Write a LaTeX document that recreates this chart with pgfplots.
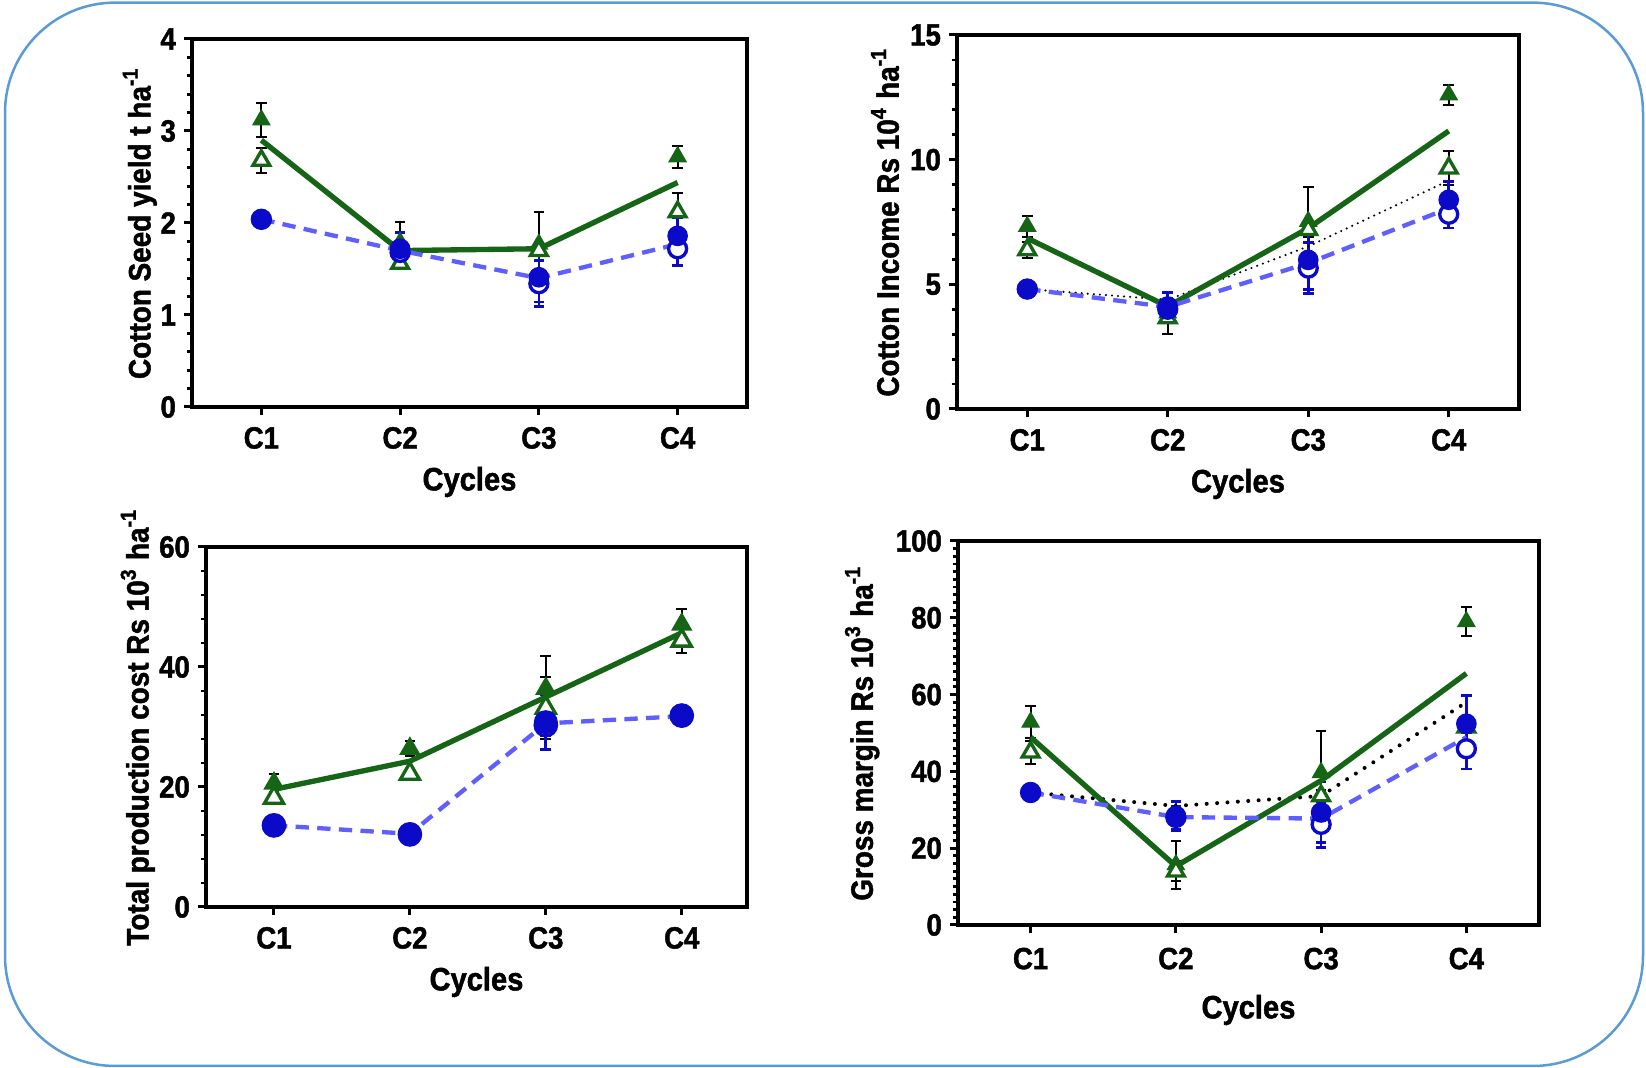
\documentclass[border=0pt]{standalone}
\usepackage{fontspec}
\setmainfont{Liberation Sans}[FakeStretch=0.9, BoldFeatures={FakeBold=1.5}]
\usepackage{pgfplots}
\pgfplotsset{compat=1.18}
\definecolor{ggreen}{RGB}{22,100,22}
\definecolor{dblue}{RGB}{10,10,200}
\definecolor{lblue}{RGB}{95,95,255}
\definecolor{bcol}{RGB}{91,155,213}
\pgfplotsset{
  panel/.style={scale only axis, xmin=0.5, xmax=4.5, xtick={1,2,3,4},
    xticklabels={C1,C2,C3,C4}, xtick pos=bottom, ytick pos=left, tick align=outside,
    axis line style={line width=1.35pt}, tick style={black,line width=0.9pt},
    minor tick style={black,line width=0.85pt},
    major tick length=2.5pt, minor tick length=1.6pt,
    /pgf/number format/assume math mode=true,
    yticklabel={\fontsize{9.2}{10}\selectfont\bfseries\pgfmathprintnumber[assume math mode=true]{\tick}},
    yticklabel style={xshift=1.2pt},
    xticklabel style={font=\fontsize{9.2}{10}\selectfont\bfseries},
    xlabel style={font=\fontsize{9.7}{10}\selectfont\bfseries},
    ylabel style={font=\fontsize{9.3}{10}\selectfont\bfseries},
    xlabel={Cycles},
    xlabel style={at={(axis description cs:0.5,0)}, anchor=center, yshift=-22.5pt},
    clip=false},
  tf/.style={only marks, mark=triangle*, mark size=#1, color=ggreen,
    error bars/.cd, y dir=both, y explicit,
    error bar style={black, line width=0.6pt},
    error mark options={black, rotate=90, mark size=1.6pt, line width=0.6pt}},
  to/.style={only marks, mark=triangle*, mark size=#1, color=ggreen,
    mark options={fill=white, draw=ggreen, line width=1pt},
    error bars/.cd, y dir=both, y explicit,
    error bar style={black, line width=0.6pt},
    error mark options={black, rotate=90, mark size=1.6pt, line width=0.6pt}},
  cf/.style={only marks, mark=*, mark size=#1, color=dblue,
    error bars/.cd, y dir=both, y explicit,
    error bar style={dblue, line width=0.8pt},
    error mark options={dblue, rotate=90, mark size=1.6pt, line width=0.8pt}},
  co/.style={only marks, mark=*, mark size=#1, color=dblue,
    mark options={fill=white, draw=dblue, line width=1pt},
    error bars/.cd, y dir=both, y explicit,
    error bar style={dblue, line width=0.8pt},
    error mark options={dblue, rotate=90, mark size=1.6pt, line width=0.8pt}},
  gline/.style={ggreen, line width=1.6pt, no marks},
  bline/.style={lblue, line width=1.3pt, dash pattern=on 4pt off 2.5pt, no marks},
  kline/.style={black, line width=#1, line cap=round, dash pattern=on 0pt off 2.6*#1, no marks},
}
\begin{document}
\begin{tikzpicture}
\path[use as bounding box] (0,0) rectangle (493.8pt,320.4pt);
\draw[bcol, line width=0.75pt, rounded corners=33pt] (1.5pt,0.6pt) rectangle (492.9pt,319.6pt);

% Panel 1
\begin{axis}[panel, at={(57.6pt,198.3pt)}, anchor=south west, width=166.5pt, height=110.4pt,
  ymin=0, ymax=4, ytick={0,1,2,3,4}, minor y tick num=4,
  ylabel={Cotton Seed yield t ha\textsuperscript{-1}},
  ylabel style={at={(axis description cs:-0.094,0.5)}, anchor=center}]
\addplot[tf=2.9pt] table[x=x,y=y,y error=e] {
x y e
1 3.12 0.18
2 1.79 0.22
3 1.77 0.35
4 2.72 0.12
};
\addplot[to=2.9pt] table[x=x,y=y,y error=e] {
x y e
1 2.68 0.14
2 1.56 0.05
3 1.70 0.05
4 2.12 0.21
};
\addplot[co=2.7pt] table[x=x,y=y,y error=e] {
x y e
1 2.04 0.02
2 1.68 0.12
3 1.34 0.25
4 1.72 0.18
};
\addplot[cf=2.9pt] table[x=x,y=y,y error=e] {
x y e
1 2.04 0.02
2 1.72 0.18
3 1.41 0.27
4 1.86 0.20
};
\addplot[gline] coordinates {(1,2.90) (2,1.70) (3,1.72) (4,2.44)};
\addplot[bline] coordinates {(1,2.04) (2,1.70) (3,1.40) (4,1.77)};
\end{axis}

% Panel 2
\begin{axis}[panel, at={(287.1pt,197.7pt)}, anchor=south west, width=168.6pt, height=112.2pt,
  ymin=0, ymax=15, ytick={0,5,10,15}, minor y tick num=4,
  ylabel={Cotton Income Rs 10\textsuperscript{4} ha\textsuperscript{-1}},
  ylabel style={at={(axis description cs:-0.128,0.5)}, anchor=center}]
\addplot[tf=2.9pt] table[x=x,y=y,y error=e] {
x y e
1 7.32 0.43
2 3.85 0.85
3 7.52 1.40
4 12.6 0.40
};
\addplot[to=2.9pt] table[x=x,y=y,y error=e] {
x y e
1 6.38 0.33
2 3.65 0.10
3 7.19 0.30
4 9.66 0.69
};
\addplot[co=2.7pt] table[x=x,y=y,y error=e] {
x y e
1 4.81 0.10
2 4.00 0.30
3 5.65 1.03
4 7.81 0.55
};
\addplot[cf=2.9pt] table[x=x,y=y,y error=e] {
x y e
1 4.81 0.10
2 4.11 0.55
3 5.98 1.20
4 8.39 0.73
};
\addplot[kline=0.7pt] coordinates {(1,4.81) (2,4.38) (3,6.52) (4,9.16)};
\addplot[gline] coordinates {(1,6.85) (2,4.11) (3,7.25) (4,11.15)};
\addplot[bline] coordinates {(1,4.81) (2,4.09) (3,5.85) (4,8.05)};
\end{axis}

% Panel 3
\begin{axis}[panel, at={(61.8pt,48.3pt)}, anchor=south west, width=162.3pt, height=108pt,
  xmax=4.48,
  ymin=0, ymax=60, ytick={0,20,40,60}, minor y tick num=4,
  ylabel={Total production cost Rs 10\textsuperscript{3} ha\textsuperscript{-1}},
  ylabel style={at={(axis description cs:-0.126,0.5)}, anchor=center}]
\addplot[tf=3.3pt] table[x=x,y=y,y error=e] {
x y e
1 20.6 1.5
2 26.4 1.2
3 36.4 5.4
4 47.1 2.6
};
\addplot[to=3.3pt] table[x=x,y=y,y error=e] {
x y e
1 18.2 0.6
2 22.2 0.6
3 33.2 5.2
4 44.4 2.1
};
\addplot[co=3.2pt] table[x=x,y=y,y error=e] {
x y e
1 13.6 0.4
2 12.1 0.4
3 30.3 1.7
4 31.9 0.4
};
\addplot[cf=3.4pt] table[x=x,y=y,y error=e] {
x y e
1 13.6 0.4
2 12.1 0.4
3 30.8 4.6
4 31.9 0.4
};
\addplot[gline] coordinates {(1,19.6) (2,24.3) (3,35.0) (4,45.7)};
\addplot[bline] coordinates {(1,13.6) (2,12.2) (3,30.6) (4,31.8)};
\end{axis}

% Panel 4
\begin{axis}[panel, at={(287.4pt,42.9pt)}, anchor=south west, width=174.3pt, height=115.2pt,
  ymin=0, ymax=100, ytick={0,20,40,60,80,100}, minor y tick num=9,
  ylabel={Gross margin Rs 10\textsuperscript{3} ha\textsuperscript{-1}},
  ylabel style={at={(axis description cs:-0.165,0.5)}, anchor=center},
  xticklabel style={yshift=-0.8pt},
  xlabel style={yshift=-3pt}]
\addplot[tf=2.9pt] table[x=x,y=y,y error=e] {
x y e
1 52.8 4.2
2 15.7 6.2
3 39.7 10.9
4 79.0 3.7
};
\addplot[to=2.9pt] table[x=x,y=y,y error=e] {
x y e
1 45.0 3.0
2 14.0 2.6
3 33.6 1.5
4 51.5 1.5
};
\addplot[co=2.7pt] table[x=x,y=y,y error=e] {
x y e
1 34.5 1.0
2 28.0 3.0
3 26.2 6.0
4 45.9 5.3
};
\addplot[cf=2.9pt] table[x=x,y=y,y error=e] {
x y e
1 34.5 1.0
2 28.4 3.8
3 29.3 7.9
4 52.4 7.4
};
\addplot[kline=1.2pt] coordinates {(1,34.5) (2,31.0) (3,33.6) (4,58.0)};
\addplot[gline] coordinates {(1,48.9) (2,15.3) (3,37.6) (4,65.5)};
\addplot[bline] coordinates {(1,34.5) (2,28.1) (3,27.7) (4,48.9)};
\end{axis}
\end{tikzpicture}
\end{document}
